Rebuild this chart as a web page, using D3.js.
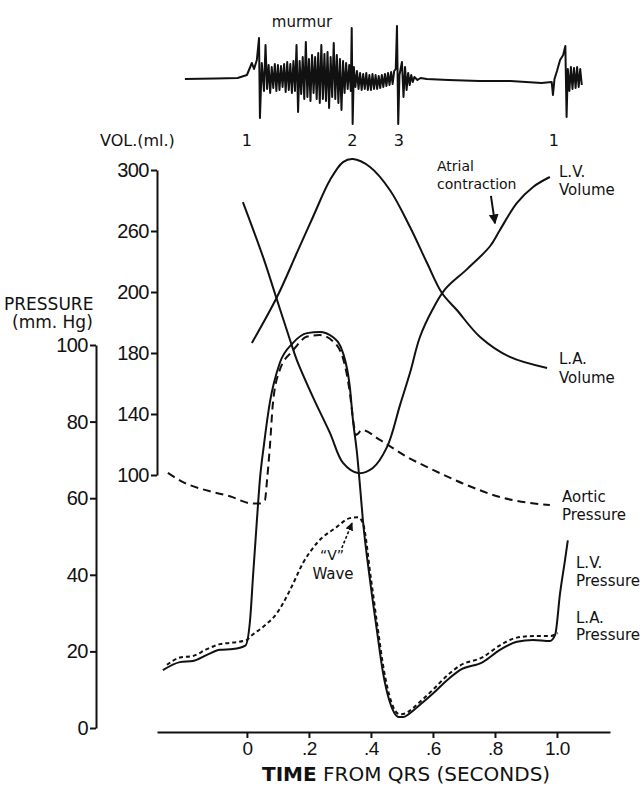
<!DOCTYPE html>
<meta charset="utf-8">
<style>
body { margin: 0; background: #fff; }
svg { font-family: "DejaVu Sans", sans-serif; }
.axis path, .axis line { stroke: #111; stroke-width: 2; }
.axis text { fill: #111; font-size: 20px; letter-spacing: -0.5px; }
.curve { fill: none; stroke: #111; stroke-width: 2; }
.label { fill: #111; font-size: 15px; }
</style>
<svg width="642" height="786"></svg>
<script src="https://cdn.jsdelivr.net/npm/d3@7"></script>
<script>

// time axis
var timeTicks = [0, 0.2, 0.4, 0.6, 0.8, 1.0];
var timeLabels = ["0", ".2", ".4", ".6", ".8", "1.0"];

// pressure axis (mm Hg)
var pressureTicks = [0, 20, 40, 60, 80, 100];

// volume axis (ml) - the printed labels read 200 where 220 belongs
var volumeTicks = [100, 140, 180, 220, 260, 300];
var volumeLabels = ["100", "140", "180", "200", "260", "300"];

// [time (s), mm Hg]
var lvPressure = [[-0.271,15.1],[-0.216,17.2],[-0.174,17.5],[-0.129,19.1],[-0.087,20.4],[-0.045,20.6],[-0.005,21.5],
  [0.01,28],[0.02,40],[0.032,54],[0.042,65],[0.055,74],[0.074,85],[0.106,95.3],[0.148,100.5],[0.194,103.1],
  [0.235,103.4],[0.277,102.1],[0.31,97.9],[0.332,89],[0.342,80.4],[0.355,71.8],[0.365,62.9],[0.374,54.3],
  [0.397,38.6],[0.419,25.6],[0.439,14.4],[0.46,7],[0.475,4],[0.49,2.9],[0.505,2.9],[0.525,3.8],[0.55,5.5],
  [0.6,9],[0.65,12.8],[0.687,15.1],[0.761,17.2],[0.816,20.4],[0.871,22.5],[0.923,23],[0.977,22.7],[0.994,24.3],
  [1.01,35.2],[1.026,43.9],[1.035,49]];

var laPressure = [[-0.258,16.5],[-0.216,18.4],[-0.174,18.8],[-0.129,20.6],[-0.087,21.9],[-0.045,22.3],[0,23],
  [0.01,23.8],[0.052,26.4],[0.097,30],[0.139,36],[0.181,43.1],[0.226,48.3],[0.29,52.5],[0.332,54.8],
  [0.358,55],[0.374,53.5],[0.4,39],[0.422,26],[0.442,15],[0.463,7.5],[0.478,4.5],[0.493,3.6],[0.51,3.8],
  [0.53,4.8],[0.555,6.6],[0.6,10],[0.65,14],[0.687,16.3],[0.761,18.5],[0.816,21.6],[0.871,23.6],[0.923,24],
  [0.977,24],[1.003,24.8]];

var aorticPressure = [[-0.255,66.6],[-0.206,64.2],[-0.119,61.8],[-0.055,60.5],[0.01,58.7],[0.04,58.6],
  [0.058,59.5],[0.065,64.8],[0.074,73.4],[0.084,84.9],[0.106,93.5],[0.148,98.5],[0.194,102.2],[0.235,102.6],
  [0.277,101],[0.31,96.5],[0.332,87.5],[0.345,79],[0.352,76.5],[0.371,77.8],[0.429,75.2],[0.516,70.8],
  [0.6,67.4],[0.71,63.4],[0.816,60.3],[0.977,58.2]];

// [time (s), ml]
var lvVolume = [[-0.013,279],[0.052,243],[0.097,214.8],[0.139,188.5],[0.161,175.4],[0.213,151.1],[0.268,127.5],
  [0.31,107.9],[0.358,101.3],[0.406,104.6],[0.452,118.4],[0.494,146],[0.526,167],[0.558,190.5],[0.6,209],
  [0.64,222],[0.71,235],[0.784,250],[0.816,260.7],[0.871,278.4],[0.923,288.9],[0.977,295.4]];

var laVolume = [[0.016,186.6],[0.097,216.7],[0.161,245.6],[0.213,269.2],[0.268,293.4],[0.31,305.2],[0.342,307.2],
  [0.397,302],[0.461,286.9],[0.526,262.6],[0.581,239],[0.629,219.3],[0.677,208.2],[0.752,190.5],[0.848,177.4],
  [0.968,170.2]];

// phonocardiogram: [time (s), deflection]
var phono = [[-0.2,0],[-0.1,0.5],[-0.03,1],[0,4],[0.016,16],[0.023,10],[0.032,19],[0.039,41],[0.042,-39],[0.048,16],
  [0.055,-12],[0.06,34],[0.065,-10],[0.07,14],[0.075,-14],[0.08,12],[0.085,-9],[0.09,15],[0.095,-12],[0.1,14],
  [0.105,-11],[0.11,13],[0.115,-8],[0.12,15],[0.125,-13],[0.13,17],[0.135,-11],[0.14,15],[0.145,-14],[0.15,18],
  [0.155,-12],[0.16,34],[0.165,-33],[0.17,18],[0.175,-15],[0.18,22],[0.185,-20],[0.19,37],[0.195,-18],[0.2,20],
  [0.205,-22],[0.21,24],[0.215,-14],[0.22,22],[0.225,-20],[0.23,26],[0.235,-24],[0.24,34],[0.245,-20],[0.25,25],
  [0.255,-22],[0.26,27],[0.265,-29],[0.27,22],[0.275,-18],[0.28,36],[0.285,-20],[0.29,24],[0.295,-24],[0.3,20],
  [0.305,-31],[0.31,18],[0.315,-14],[0.32,16],[0.325,-10],[0.33,14],[0.335,-12],[0.338,51],[0.341,-45],[0.345,12],
  [0.35,-8],[0.355,8],[0.36,-10],[0.365,6],[0.37,-11],[0.375,5],[0.38,-10],[0.385,6],[0.39,-11],[0.395,4],
  [0.4,-11],[0.405,5],[0.41,-10],[0.415,4],[0.42,-10],[0.425,3],[0.43,-9],[0.435,4],[0.44,-8],[0.445,5],
  [0.45,-7],[0.455,6],[0.46,-6],[0.465,7],[0.47,-5],[0.475,8],[0.48,10],[0.484,53],[0.488,-45],[0.492,4],
  [0.5,17],[0.505,-18],[0.51,12],[0.515,-11],[0.52,6],[0.525,-6],[0.53,4],[0.535,-3],[0.54,2],[0.55,-1],
  [0.56,1],[0.58,0],[0.65,-1],[0.75,-2],[0.85,-2],[0.95,-4],[0.983,-3],[0.987,-16],[0.992,0],[1.0,8],
  [1.01,19],[1.02,24],[1.027,33],[1.031,-38],[1.035,10],[1.04,-12],[1.045,12],[1.05,-10],[1.055,11],[1.06,-9],
  [1.065,12],[1.07,-8],[1.075,10],[1.08,-6]];

// heart sounds under the phono trace
var soundTimes = [0, 0.34, 0.49, 0.99];
var soundLabels = ["1", "2", "3", "1"];

var svg = d3.select("svg");

var x = d3.scaleLinear().domain([-0.29, 1.171]).range([157, 610]);
var yP = d3.scaleLinear().domain([0, 100]).range([728, 345]);
var yV = d3.scaleLinear().domain([100, 300]).range([475, 170]);
var yPh = d3.scaleLinear().domain([-50, 50]).range([129, 29]);

var marker = svg.append("defs").append("marker")
    .attr("id", "head")
    .attr("viewBox", "0 0 10 10")
    .attr("refX", 9).attr("refY", 5)
    .attr("markerWidth", 5).attr("markerHeight", 5)
    .attr("orient", "auto");
marker.append("path").attr("d", "M0,0L10,5L0,10z").attr("fill", "#111");

// axes
svg.append("g")
    .attr("class", "axis")
    .attr("transform", "translate(0,732)")
    .call(d3.axisBottom(x).tickValues(timeTicks).tickSizeOuter(0).tickSizeInner(6).tickPadding(4)
      .tickFormat(function (d, i) { return timeLabels[i]; }))
    .selectAll("text").style("font-size", "19px");

svg.append("g")
    .attr("class", "axis")
    .attr("transform", "translate(96,0)")
    .call(d3.axisLeft(yP).tickValues(pressureTicks).tickSizeOuter(0).tickSizeInner(6).tickPadding(2));

svg.append("g")
    .attr("class", "axis")
    .attr("transform", "translate(157,0)")
    .call(d3.axisLeft(yV).tickValues(volumeTicks).tickSizeOuter(0).tickSizeInner(6).tickPadding(2)
      .tickFormat(function (d, i) { return volumeLabels[i]; }));

svg.selectAll(".axis .domain").attr("fill", "none");

// curves
var pressureLine = d3.line()
    .x(function (d) { return x(d[0]); })
    .y(function (d) { return yP(d[1]); })
    .curve(d3.curveMonotoneX);

var volumeLine = d3.line()
    .x(function (d) { return x(d[0]); })
    .y(function (d) { return yV(d[1]); })
    .curve(d3.curveCatmullRom.alpha(0.5));

var phonoLine = d3.line()
    .x(function (d) { return x(d[0]); })
    .y(function (d) { return yPh(d[1]); });

svg.append("path").attr("class", "curve").attr("d", volumeLine(lvVolume));
svg.append("path").attr("class", "curve").attr("d", volumeLine(laVolume));
svg.append("path").attr("class", "curve").attr("d", pressureLine(lvPressure));
svg.append("path").attr("class", "curve")
    .attr("stroke-dasharray", "4,3")
    .attr("d", pressureLine(laPressure));
svg.append("path").attr("class", "curve")
    .attr("stroke-dasharray", "8,5")
    .attr("d", pressureLine(aorticPressure));

svg.append("path").attr("class", "curve")
    .attr("stroke-width", 1.8)
    .attr("stroke-linejoin", "round")
    .attr("d", phonoLine(phono));

svg.selectAll(".sound")
    .data(soundTimes)
  .enter().append("text")
    .attr("class", "label")
    .attr("text-anchor", "middle")
    .attr("x", function (d) { return x(d); })
    .attr("y", 146)
    .style("font-size", "16px")
    .text(function (d, i) { return soundLabels[i]; });

// arrows
svg.append("line")
    .attr("x1", x(0.787)).attr("y1", yV(283))
    .attr("x2", x(0.8)).attr("y2", yV(265))
    .attr("stroke", "#111").attr("stroke-width", 2)
    .attr("marker-end", "url(#head)");

svg.append("line")
    .attr("x1", x(0.306)).attr("y1", yP(47))
    .attr("x2", x(0.339)).attr("y2", yP(53.5))
    .attr("stroke", "#111").attr("stroke-width", 1.6)
    .attr("stroke-dasharray", "3,2")
    .attr("marker-end", "url(#head)");

// text
function label(tx, ty, str, size, anchor) {
  return svg.append("text")
      .attr("class", "label")
      .attr("x", tx).attr("y", ty)
      .attr("text-anchor", anchor || "start")
      .style("font-size", (size || 15) + "px")
      .text(str);
}

label(302, 27, "murmur", 15, "middle");
label(100, 146, "VOL.(ml.)", 16);
label(4, 310, "PRESSURE", 17);
label(12, 328, "(mm. Hg)", 17);
label(437, 171, "Atrial", 14);
label(437, 189, "contraction", 14);
label(559, 177, "L.V.");
label(559, 195, "Volume");
label(559, 364, "L.A.");
label(559, 383, "Volume");
label(562, 502, "Aortic");
label(562, 520, "Pressure");
label(576, 568, "L.V.");
label(576, 586, "Pressure");
label(576, 623, "L.A.");
label(576, 640, "Pressure");
label(332, 560, "\u201CV\u201D", 14, "middle");
label(333, 579, "Wave", 15, "middle");

var title = svg.append("text")
    .attr("class", "label")
    .attr("x", 262).attr("y", 781)
    .style("font-size", "20px");
title.append("tspan").style("font-weight", "bold").text("TIME");
title.append("tspan").text(" FROM QRS (SECONDS)");

</script>
